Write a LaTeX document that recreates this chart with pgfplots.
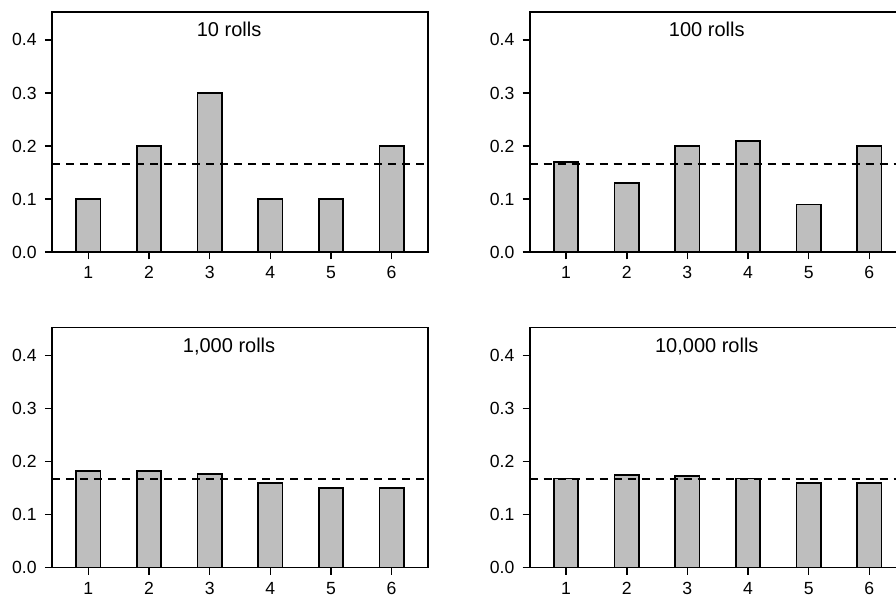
\documentclass[border=0pt]{standalone}
\usepackage{fontspec}
\setmainfont{Liberation Sans}
\usepackage{pgfplots}
\pgfplotsset{compat=1.18}
\definecolor{bargray}{HTML}{BEBEBE}
\pgfplotsset{
  dice/.style={
    scale only axis, width=188pt, height=120pt,
    xmin=0.4, xmax=6.6, ymin=0, ymax=0.452,
    axis line style={line width=0.8pt, black},
    xtick={1,2,3,4,5,6}, ytick={0,0.1,0.2,0.3,0.4},
    tick pos=left, tick align=outside, major tick length=3.5pt,
    every tick/.style={black, line width=0.8pt},
    /pgf/number format/assume math mode=true,
    xticklabel style={font=\fontsize{8.8}{10}\selectfont, inner sep=0pt, yshift=-3.5pt},
    yticklabel style={font=\fontsize{8.8}{10}\selectfont, inner sep=0pt, xshift=-4pt,
      /pgf/number format/.cd, fixed, fixed zerofill, precision=1, /tikz/.cd},
  },
  dicebar/.style={ybar, bar width=0.4, fill=bargray, draw=black, line width=0.8pt},
  diceline/.style={black, line width=0.8pt, dash pattern=on 4pt off 3pt},
}
\begin{document}
\begin{tikzpicture}
\path[use as bounding box] (0,0) rectangle (448pt,297.5pt);
\clip (0,0) rectangle (448pt,297.5pt);
% 10 rolls
\begin{axis}[dice, at={(26pt,171.35pt)}]
\addplot[dicebar] coordinates {(1,0.10) (2,0.20) (3,0.30) (4,0.10) (5,0.10) (6,0.20)};
\addplot[diceline] coordinates {(0.4,0.1667) (6.6,0.1667)};
\node[font=\fontsize{10}{12}\selectfont, anchor=base] at (axis cs:3.32,0.406) {10 rolls};
\end{axis}
% 100 rolls
\begin{axis}[dice, at={(264.85pt,171.35pt)}]
\addplot[dicebar] coordinates {(1,0.17) (2,0.13) (3,0.20) (4,0.21) (5,0.09) (6,0.20)};
\addplot[diceline] coordinates {(0.4,0.1667) (6.6,0.1667)};
\node[font=\fontsize{10}{12}\selectfont, anchor=base] at (axis cs:3.32,0.406) {100 rolls};
\end{axis}
% 1,000 rolls
\begin{axis}[dice, at={(26pt,13.65pt)}]
\addplot[dicebar] coordinates {(1,0.182) (2,0.182) (3,0.177) (4,0.159) (5,0.150) (6,0.150)};
\addplot[diceline] coordinates {(0.4,0.1667) (6.6,0.1667)};
\node[font=\fontsize{10}{12}\selectfont, anchor=base] at (axis cs:3.32,0.406) {1,000 rolls};
\end{axis}
% 10,000 rolls
\begin{axis}[dice, at={(264.85pt,13.65pt)}]
\addplot[dicebar] coordinates {(1,0.168) (2,0.175) (3,0.173) (4,0.168) (5,0.159) (6,0.159)};
\addplot[diceline] coordinates {(0.4,0.1667) (6.6,0.1667)};
\node[font=\fontsize{10}{12}\selectfont, anchor=base] at (axis cs:3.32,0.406) {10,000 rolls};
\end{axis}
\end{tikzpicture}
\end{document}
